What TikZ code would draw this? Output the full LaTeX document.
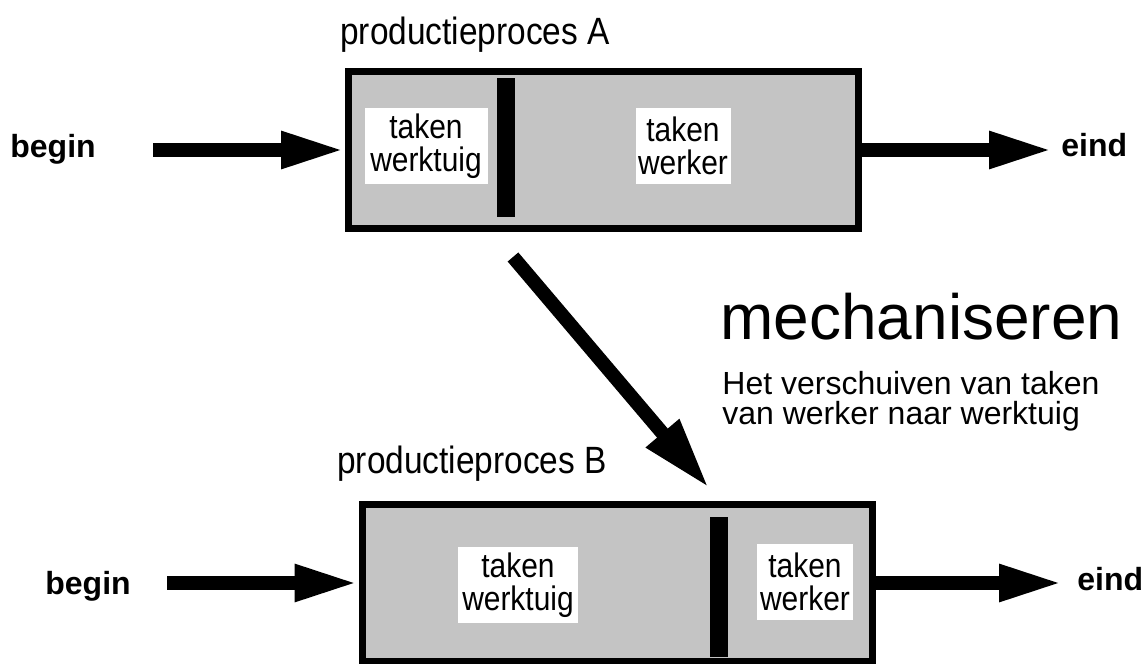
\documentclass[tikz,border=0pt]{standalone}
\usepackage{fontspec}
\setmainfont{Liberation Sans}
\newfontfamily\scanfont[FakeStretch=0.88]{Liberation Sans}
\usepackage{tikz}
\usetikzlibrary{positioning,arrows.meta,calc}
\definecolor{raster}{gray}{0.77}

\begin{document}
\begin{tikzpicture}[x=0.5pt,y=-0.5pt,
  procbox/.style={draw,line width=3.5pt,fill=raster,minimum width=255pt,minimum height=78.5pt,inner sep=0pt},
  taskbox/.style={fill=white,align=center,font=\scanfont\fontsize{17}{16.5}\selectfont,inner xsep=1pt,inner ysep=0pt,minimum height=38pt},
  divider/.style={fill=black,inner sep=0pt,minimum width=9pt},
  fatarrow/.style={line width=7pt,-{Triangle[length=32pt,width=17pt]}},
  endlabel/.style={font=\fontsize{16}{16}\selectfont\bfseries,anchor=base west,inner sep=0pt},
  proctitle/.style={font=\scanfont\fontsize{19}{19}\selectfont,anchor=base west,inner sep=0pt}]
  \useasboundingbox (0,0) rectangle (1148,664);
  % productieproces A
  \node[proctitle] (titleA) at (340,44) {productieproces A};
  \node[procbox] (boxA) at (603.5,150) {};
  \node[divider,minimum height=69.5pt] (barA) at (506,147.5) {};
  \node[taskbox,minimum width=61.5pt] (toolA) at (426,146) {taken\\werktuig};
  \node[taskbox,minimum width=47.5pt] (workA) at (683,146) {taken\\werker};
  \node[endlabel] (beginA) at (10,157) {begin};
  \node[endlabel] (eindA) at (1061,156) {eind};
  \coordinate (inA) at (153,150); \coordinate (outA) at (1053,150);
  \draw[fatarrow] (inA) -- (boxA.west); \draw[fatarrow] (boxA.east) -- (outA);
  % productieproces B
  \node[proctitle] (titleB) at (337,473) {productieproces B};
  \node[procbox] (boxB) at (617,583) {};
  \node[divider,minimum height=70pt] (barB) at (718.5,587) {};
  \node[taskbox,minimum width=60pt] (toolB) at (518,585) {taken\\werktuig};
  \node[taskbox,minimum width=48pt] (workB) at (805,582) {taken\\werker};
  \node[endlabel] (beginB) at (45,594) {begin};
  \node[endlabel] (eindB) at (1077,590) {eind};
  \coordinate (inB) at (167,583); \coordinate (outB) at (1063,583);
  \draw[fatarrow] (inB) -- (boxB.west); \draw[fatarrow] (boxB.east) -- (outB);
  % mechaniseren
  \coordinate (mechFrom) at ($(boxA.south)+(-90.5,25)$); \coordinate (mechTo) at ($(boxB.north)+(92,-13)$);
  \draw[fatarrow,-{Triangle[length=36pt,width=20pt]}] (mechFrom) -- (mechTo);
  \node[font=\fontsize{32}{32}\selectfont,anchor=base west,inner sep=0pt] (mech) at (720,339) {mechaniseren};
  \node[font=\fontsize{16}{15}\selectfont,align=left,anchor=north west,inner sep=0pt] (mechText) at (722,371)
    {Het verschuiven van taken\\van werker naar werktuig};
\end{tikzpicture}
\end{document}
